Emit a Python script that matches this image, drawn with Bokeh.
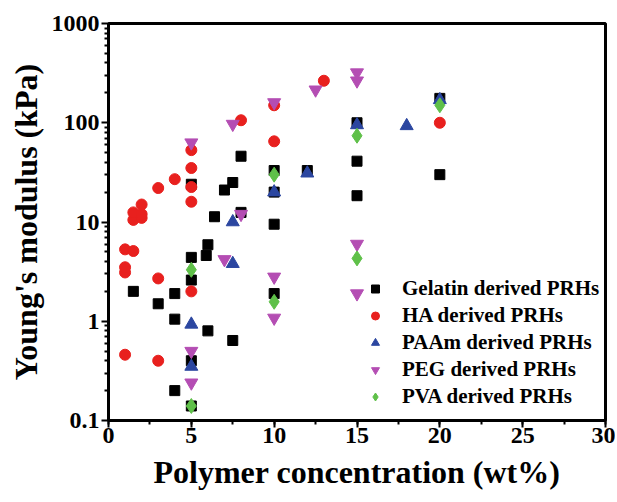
from bokeh.plotting import figure
from bokeh.models import (Range1d, SingleIntervalTicker, FixedTicker,
                          Legend, LegendItem, CustomJSTickFormatter)
from bokeh.embed import file_html
from bokeh.resources import INLINE

# ---- data ----
gel_x = [1.5, 3, 4, 4, 4, 5, 5, 5, 5, 5, 6, 5.9, 6, 6.4, 7, 7.5, 7.5, 8, 8,
         10, 10, 10, 10, 12, 15, 15, 15, 20, 20]
gel_y = [2.0, 1.5, 1.9, 1.05, 0.2, 0.4, 0.14, 2.6, 4.4, 24, 5.9, 4.6, 0.8, 11.3,
         21, 25, 0.64, 46, 12.5, 33, 20, 9.5, 1.9, 33, 100, 41, 18.4, 176, 30]

ha_x = [1, 1, 1, 1, 1.5, 1.5, 1.5, 2, 2, 2, 3, 3, 3, 4, 5, 5, 5, 5, 5, 8, 10, 10, 13, 20]
ha_y = [0.46, 3.1, 3.5, 5.3, 5.1, 10.5, 12.5, 11, 12, 15, 0.4, 2.7, 22, 27, 2.0, 16,
        22.5, 35, 53, 106, 65, 150, 265, 100]

paam_x = [5, 5, 7.5, 7.5, 10, 12, 15, 18, 20]
paam_y = [0.35, 0.93, 3.8, 10, 20, 31, 95, 93, 170]

peg_x = [5, 5, 5, 7, 7.5, 8, 10, 10, 10, 12.5, 15, 15, 15, 15]
peg_y = [0.24, 0.5, 63, 4.2, 97, 12, 1.08, 2.8, 160, 215, 1.9, 6, 265, 320]

pva_x = [5, 5, 10, 10, 15, 15, 20]
pva_y = [0.14, 3.3, 1.57, 30, 4.3, 74, 150]

series_labels = ["Gelatin derived PRHs", "HA derived PRHs", "PAAm derived PRHs",
                 "PEG derived PRHs", "PVA derived PRHs"]

y_major = [0.1, 1, 10, 100, 1000]
x_label = "Polymer concentration (wt%)"
y_label = "Young's modulus (kPa)"

FONT = "Liberation Serif"

p = figure(width=615, height=502, x_range=Range1d(0, 30), y_range=Range1d(0.1, 1000),
           y_axis_type="log", output_backend="svg", toolbar_location=None,
           min_border_left=108, min_border_right=10, min_border_top=23,
           min_border_bottom=82)
p.grid.visible = False
p.outline_line_color = "black"
p.outline_line_width = 3
p.background_fill_color = "white"
p.border_fill_color = "white"

p.xaxis.ticker = SingleIntervalTicker(interval=5, num_minor_ticks=2)
minor = [m * 10.0 ** e for e in range(-1, 3) for m in range(2, 10)]
p.yaxis.ticker = FixedTicker(ticks=y_major, minor_ticks=minor)
p.yaxis.formatter = CustomJSTickFormatter(code="return String(tick);")

p.xaxis.axis_label = x_label
p.yaxis.axis_label = y_label

for ax in (p.xaxis[0], p.yaxis[0]):
    ax.axis_line_width = 3
    ax.axis_line_color = "black"
    ax.major_tick_line_width = 2
    ax.minor_tick_line_width = 2
    ax.major_tick_out = 7
    ax.major_tick_in = 0
    ax.minor_tick_out = 4
    ax.minor_tick_in = 0
    ax.major_label_text_font = FONT
    ax.major_label_text_font_style = "bold"
    ax.major_label_text_font_size = "24px"
    ax.major_label_text_color = "black"
    ax.axis_label_text_font = FONT
    ax.axis_label_text_font_style = "bold"
    ax.axis_label_text_font_size = "32px"
    ax.axis_label_text_color = "black"
p.xaxis.major_label_standoff = 0
p.yaxis.major_label_standoff = 2
p.xaxis.axis_label_standoff = 8
p.yaxis.axis_label_standoff = 5

r1 = p.scatter(gel_x, gel_y, marker="square", size=10, color="black")
r2 = p.scatter(ha_x, ha_y, marker="circle", size=11, color="#e8201e")
r3 = p.scatter(paam_x, paam_y, marker="triangle", size=13, color="#2b46a0")
r4 = p.scatter(peg_x, peg_y, marker="inverted_triangle", size=13, color="#b44db3")
r5 = p.scatter(pva_x, pva_y, marker="diamond", size=15, color="#5fc049")

legend = Legend(items=[LegendItem(label=l, renderers=[r])
                       for l, r in zip(series_labels, [r1, r2, r3, r4, r5])],
                location=(257, 10), padding=0, margin=0, spacing=0,
                glyph_width=20, glyph_height=27, label_height=27, label_standoff=17,
                border_line_alpha=0, background_fill_alpha=0,
                label_text_font=FONT, label_text_font_style="bold",
                label_text_font_size="21px", label_text_color="black")
p.add_layout(legend)

open("out.html", "w").write(file_html(p, INLINE))
